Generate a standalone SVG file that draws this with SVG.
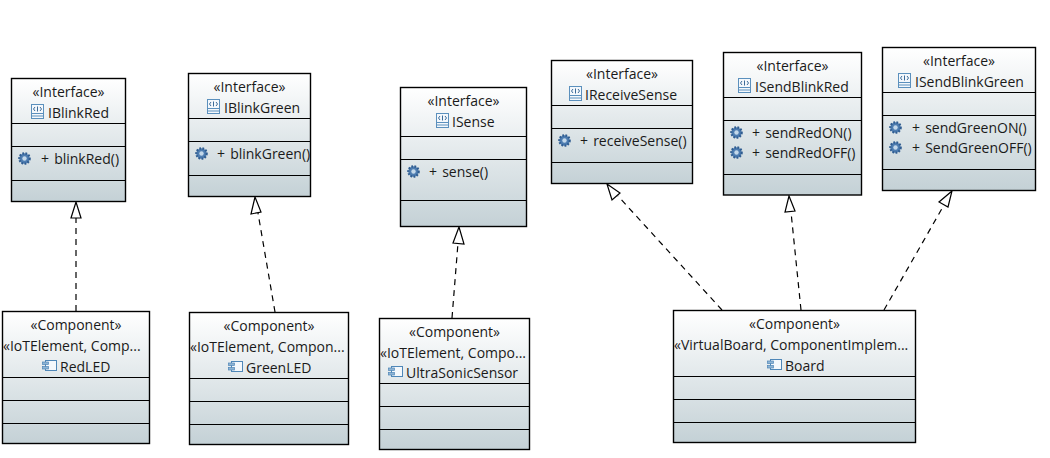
<svg xmlns="http://www.w3.org/2000/svg" width="1050" height="458" viewBox="0 0 1050 458">
<style>
text{font-family:"Open Sans","Noto Sans","Liberation Sans",sans-serif;font-size:14px;fill:#1a1a1a}
.m{text-anchor:middle}
.o{word-spacing:1.5px}
.box{fill:url(#shade);stroke:#000;stroke-width:1.4}
.div{stroke:#000;stroke-width:1.2;fill:none}
.dash{stroke:#000;stroke-width:1.2;stroke-dasharray:6 5;fill:none}
.head{fill:#fff;stroke:#000;stroke-width:1.2}
</style>
<defs>
<linearGradient id="shade" x1="0" y1="0" x2="0" y2="1"><stop offset="0" stop-color="#ffffff"/><stop offset="1" stop-color="#c4d1d6"/></linearGradient>
<g id="iface"><rect x="0.5" y="0.5" width="12" height="14" fill="#f4f8fc" stroke="#5b90bd"/><path d="M1 9.500H12M1 12H12" stroke="#5b90bd" fill="none"/><path d="M4 3L2.500 5L4 7M9 3L10.500 5L9 7M6.500 2.500V7.500" stroke="#3a6a98" fill="none"/></g>
<g id="comp"><rect x="3.500" y="0.500" width="11" height="10" fill="#f4f8fc" stroke="#4f87b8"/><rect x="0.500" y="2" width="6" height="2.500" fill="#8fb4d4" stroke="#4f87b8" stroke-width=".7"/><rect x="0.500" y="6.500" width="6" height="2.500" fill="#8fb4d4" stroke="#4f87b8" stroke-width=".7"/></g>
<g id="op"><circle r="5.200" fill="#4d7cb0" stroke="#2f5c90" stroke-width="2.200" stroke-dasharray="1.700 1.400"/><circle r="2.200" fill="#c3d8ea"/></g>
</defs>

<g id="connectors">
<path class="dash" d="M76 311V218"/><path class="head" d="M76 202L71 218H81Z"/>
<path class="dash" d="M275 312L258 213"/><path class="head" d="M255 197L251 214L261 212Z"/>
<path class="dash" d="M452 318L458 243"/><path class="head" d="M459 227L453 243L464 244Z"/>
<path class="dash" d="M722 310L618 196"/><path class="head" d="M607 184L612 200L620 193Z"/>
<path class="dash" d="M801 310L791 212"/><path class="head" d="M789 196L785 212L795 211Z"/>
<path class="dash" d="M884 310L944 205"/><path class="head" d="M952 191L939 202L948 207Z"/>
</g>

<g id="IBlinkRed">
<rect class="box" x="11.500" y="78.500" width="114" height="123"/>
<path class="div" d="M11.500 123.500H125.500M11.500 146.500H125.500M11.500 180.500H125.500"/>
<text class="m" x="68.500" y="97">«Interface»</text>
<use href="#iface" x="31" y="104"/><text x="48" y="118">IBlinkRed</text>
<use href="#op" x="24.500" y="158.500"/><text class="o" x="41" y="164">+ blinkRed()</text>
</g>
<g id="IBlinkGreen">
<rect class="box" x="188.500" y="73.500" width="122" height="123"/>
<path class="div" d="M188.500 118.500H310.500M188.500 141.500H310.500M188.500 175.500H310.500"/>
<text class="m" x="249.500" y="92">«Interface»</text>
<use href="#iface" x="207" y="99"/><text x="224" y="113">IBlinkGreen</text>
<use href="#op" x="201.500" y="153.500"/><text class="o" x="217" y="159">+ blinkGreen()</text>
</g>
<g id="ISense">
<rect class="box" x="400.500" y="87.500" width="126" height="139"/>
<path class="div" d="M400.500 136.500H526.500M400.500 159.500H526.500M400.500 200.500H526.500"/>
<text class="m" x="463.500" y="106">«Interface»</text>
<use href="#iface" x="436" y="113"/><text x="452" y="127">ISense</text>
<use href="#op" x="413.500" y="171.500"/><text class="o" x="429" y="177">+ sense()</text>
</g>
<g id="IReceiveSense">
<rect class="box" x="551.500" y="60.500" width="141" height="123"/>
<path class="div" d="M551.500 105.500H692.500M551.500 128.500H692.500M551.500 162.500H692.500"/>
<text class="m" x="622" y="79">«Interface»</text>
<use href="#iface" x="569" y="86"/><text x="585" y="100">IReceiveSense</text>
<use href="#op" x="564.500" y="140.500"/><text class="o" x="580" y="146">+ receiveSense()</text>
</g>
<g id="ISendBlinkRed">
<rect class="box" x="723.500" y="52.500" width="138" height="142.500"/>
<path class="div" d="M723.500 97.500H861.500M723.500 120.500H861.500M723.500 174.500H861.500"/>
<text class="m" x="792.500" y="71">«Interface»</text>
<use href="#iface" x="738" y="78"/><text x="755" y="92">ISendBlinkRed</text>
<use href="#op" x="736.500" y="132.500"/><text class="o" x="752" y="138">+ sendRedON()</text>
<use href="#op" x="736.500" y="152.500"/><text class="o" x="752" y="158">+ sendRedOFF()</text>
</g>
<g id="ISendBlinkGreen">
<rect class="box" x="882.500" y="47.500" width="153" height="143"/>
<path class="div" d="M882.500 92.500H1035.500M882.500 115.500H1035.500M882.500 169.500H1035.500"/>
<text class="m" x="959" y="66">«Interface»</text>
<use href="#iface" x="898" y="73"/><text x="915" y="87">ISendBlinkGreen</text>
<use href="#op" x="895.500" y="127.500"/><text class="o" x="912" y="133">+ sendGreenON()</text>
<use href="#op" x="895.500" y="147.500"/><text class="o" x="912" y="153">+ SendGreenOFF()</text>
</g>
<g id="RedLED">
<rect class="box" x="2.500" y="311.500" width="147" height="132"/>
<path class="div" d="M2.500 377.500H149.500M2.500 400.500H149.500M2.500 423.500H149.500"/>
<text class="m" x="76" y="330">«Component»</text>
<text x="3" y="351">«IoTElement, Comp...</text>
<use href="#comp" x="42" y="360"/><text x="60" y="372">RedLED</text>
</g>
<g id="GreenLED">
<rect class="box" x="189.500" y="312.500" width="159" height="132"/>
<path class="div" d="M189.500 378.500H348.500M189.500 401.500H348.500M189.500 424.500H348.500"/>
<text class="m" x="269" y="331">«Component»</text>
<text x="190" y="352">«IoTElement, Compon...</text>
<use href="#comp" x="228" y="361"/><text x="246" y="373">GreenLED</text>
</g>
<g id="UltraSonicSensor">
<rect class="box" x="379.500" y="318.500" width="150" height="131"/>
<path class="div" d="M379.500 383.500H529.500M379.500 406.500H529.500M379.500 429.500H529.500"/>
<text class="m" x="454.500" y="337">«Component»</text>
<text x="380" y="358">«IoTElement, Compo...</text>
<use href="#comp" x="388" y="366"/><text x="406" y="378">UltraSonicSensor</text>
</g>
<g id="Board">
<rect class="box" x="673.500" y="310.500" width="242" height="132"/>
<path class="div" d="M673.500 376.500H915.500M673.500 399.500H915.500M673.500 422.500H915.500"/>
<text class="m" x="794.500" y="329">«Component»</text>
<text x="674" y="350">«VirtualBoard, ComponentImplem...</text>
<use href="#comp" x="767" y="359"/><text x="785" y="371">Board</text>
</g>
</svg>
